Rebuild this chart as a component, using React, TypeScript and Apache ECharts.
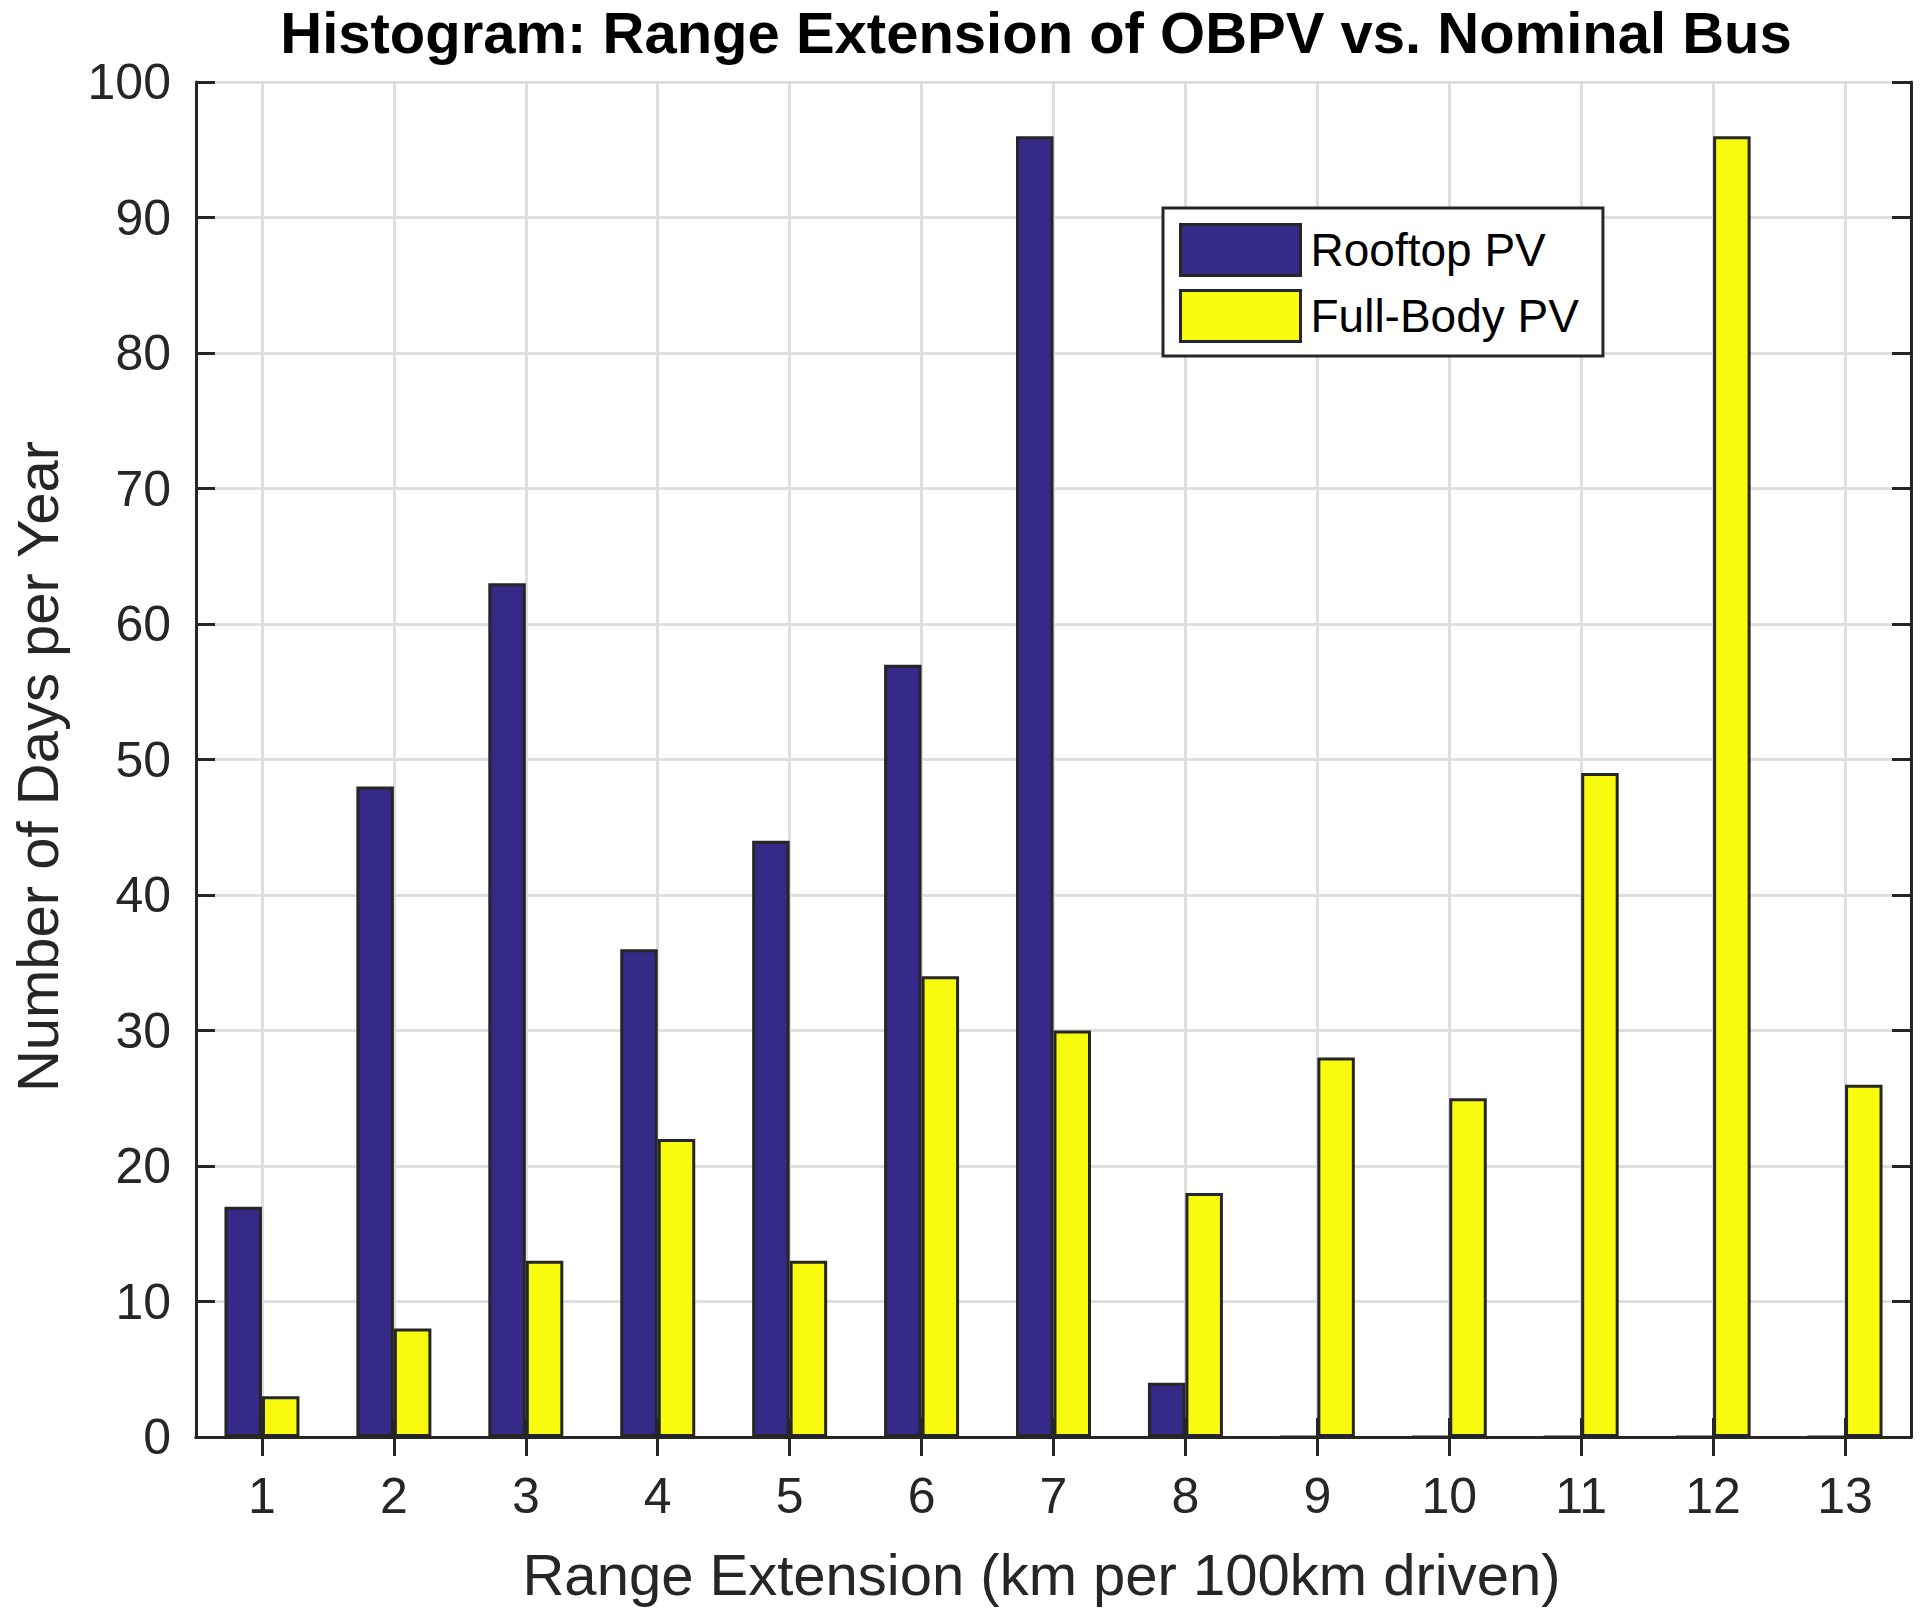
import React, { useEffect, useRef } from "react";
import * as echarts from "echarts";

const categories = ["1", "2", "3", "4", "5", "6", "7", "8", "9", "10", "11", "12", "13"];
const rooftopPV = [17, 48, 63, 36, 44, 57, 96, 4, 0, 0, 0, 0, 0];
const fullBodyPV = [3, 8, 13, 22, 13, 34, 30, 18, 28, 25, 49, 96, 26];
const seriesNames = ["Rooftop PV", "Full-Body PV"];
const titleText = "Histogram: Range Extension of OBPV vs. Nominal Bus";
const xAxisTitle = "Range Extension (km per 100km driven)";
const yAxisTitle = "Number of Days per Year";

const FONT = "'Liberation Sans', Arial, Helvetica, sans-serif";
const DARK = "#262626";
const GRID = "#DEDEDE";

export default function App() {
  const ref = useRef<HTMLDivElement>(null);

  useEffect(() => {
    if (!ref.current) return;
    const chart = echarts.init(ref.current, null, { renderer: "svg" });

    const tickCommon = {
      show: true,
      inside: true,
      length: 19,
      lineStyle: { color: DARK, width: 3 },
    };

    chart.setOption({
      animation: false,
      backgroundColor: "#ffffff",
      textStyle: { fontFamily: FONT },
      grid: {
        left: 196,
        right: 17,
        top: 82,
        bottom: 186,
        containLabel: false,
        outerBoundsMode: "none",
      },
      graphic: [
        {
          type: "text",
          x: 1036,
          y: 3,
          z: 10,
          style: {
            text: titleText,
            font: `bold 58px ${FONT}`,
            fill: "#000000",
            textAlign: "center",
            textVerticalAlign: "top",
          },
        },
      ],
      legend: {
        orient: "vertical",
        left: 1163,
        top: 208,
        padding: [15, 24, 13, 16],
        itemGap: 12,
        itemWidth: 120,
        itemHeight: 51,
        backgroundColor: "#ffffff",
        borderColor: DARK,
        borderWidth: 3,
        borderRadius: 0,
        icon: "rect",
        itemStyle: { borderColor: DARK, borderWidth: 3 },
        textStyle: { fontSize: 46, color: "#000000", fontFamily: FONT, padding: [0, 0, 0, 5] },
        data: seriesNames,
      },
      xAxis: [
        {
          type: "category",
          data: categories,
          position: "bottom",
          boundaryGap: true,
          name: xAxisTitle,
          nameLocation: "middle",
          nameGap: 108,
          nameTextStyle: { fontSize: 58, color: DARK, fontFamily: FONT, padding: [0, 24, 0, 0] },
          axisLine: { show: true, lineStyle: { color: DARK, width: 3 } },
          axisTick: { ...tickCommon, alignWithLabel: true, interval: 0 },
          axisLabel: { show: true, interval: 0, margin: 34, fontSize: 50, color: DARK, fontFamily: FONT },
          splitLine: { show: true, alignWithLabel: true, interval: 0, lineStyle: { color: GRID, width: 3 } },
        },
        {
          type: "category",
          data: categories,
          position: "top",
          boundaryGap: true,
          axisLine: { show: true, lineStyle: { color: DARK, width: 3 } },
          axisTick: { ...tickCommon, alignWithLabel: true, interval: 0 },
          axisLabel: { show: false },
          splitLine: { show: false },
        },
      ],
      yAxis: [
        {
          type: "value",
          min: 0,
          max: 100,
          interval: 10,
          position: "left",
          name: yAxisTitle,
          nameLocation: "middle",
          nameRotate: 90,
          nameGap: 130,
          nameTextStyle: { fontSize: 58, color: DARK, fontFamily: FONT, padding: [0, 14, 0, 0] },
          axisLine: { show: true, lineStyle: { color: DARK, width: 3 } },
          axisTick: { ...tickCommon },
          axisLabel: { show: true, margin: 25, fontSize: 50, color: DARK, fontFamily: FONT },
          splitLine: { show: true, lineStyle: { color: GRID, width: 3 } },
        },
        {
          type: "value",
          min: 0,
          max: 100,
          interval: 10,
          position: "right",
          axisLine: { show: true, lineStyle: { color: DARK, width: 3 } },
          axisTick: { ...tickCommon },
          axisLabel: { show: false },
          splitLine: { show: false },
        },
      ],
      series: [
        {
          name: seriesNames[0],
          type: "bar",
          xAxisIndex: 0,
          yAxisIndex: 0,
          data: rooftopPV,
          barWidth: 37.5,
          barGap: "0%",
          itemStyle: { color: "#352A87", borderColor: DARK, borderWidth: 3 },
          emphasis: { disabled: true },
        },
        {
          name: seriesNames[1],
          type: "bar",
          xAxisIndex: 0,
          yAxisIndex: 0,
          data: fullBodyPV,
          barWidth: 37.5,
          barGap: "0%",
          itemStyle: { color: "#F9FB0E", borderColor: DARK, borderWidth: 3 },
          emphasis: { disabled: true },
        },
      ],
    });

    return () => chart.dispose();
  }, []);

  return (
    <div
      ref={ref}
      style={{ position: "absolute", left: 0, top: 0, width: 1928, height: 1623, background: "#fff" }}
    />
  );
}
